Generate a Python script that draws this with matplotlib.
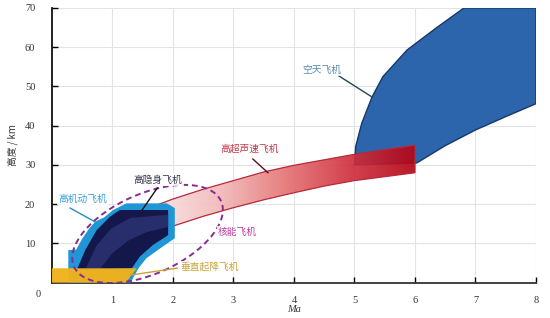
import numpy as np
import matplotlib
matplotlib.use("Agg")
import matplotlib.pyplot as plt
from matplotlib.patches import Polygon, Ellipse
from matplotlib.colors import LinearSegmentedColormap
from matplotlib.transforms import Affine2D

plt.rcParams['font.family'] = ['Noto Sans CJK SC', 'DejaVu Sans']

# ---------------- data ----------------
x_ticks = [1, 2, 3, 4, 5, 6, 7, 8]
y_ticks = [10, 20, 30, 40, 50, 60, 70]

# 空天飞机 (space plane) boundary
space_x = [5.0, 5.02, 5.12, 5.29, 5.47, 5.87, 6.36, 6.81, 8.0, 8.0, 7.5, 7.0, 6.5, 6.03]
space_y = [30.0, 34.7, 40.6, 47.3, 52.5, 59.3, 65.0, 70.0, 70.0, 45.6, 42.3, 38.9, 34.9, 30.5]

# 高超声速飞机 (hypersonic) band edges
hyp_up_x = [1.7, 2.0, 2.5, 3.0, 3.5, 4.0, 4.5, 5.0, 5.5, 6.0]
hyp_up_y = [19.6, 21.3, 23.8, 26.0, 28.2, 29.9, 31.3, 32.7, 33.9, 35.0]
hyp_lo_x = [6.0, 5.5, 5.0, 4.5, 4.0, 3.5, 3.0, 2.5, 2.0, 1.75]
hyp_lo_y = [28.0, 27.0, 26.0, 24.6, 22.9, 21.1, 19.1, 16.9, 14.4, 12.8]

# 高机动飞机 (high manoeuvrability)
man_x = [0.27, 0.27, 0.40, 0.50, 0.62, 0.72, 0.86, 1.01, 1.18, 1.23, 1.90, 2.03, 2.03,
         1.79, 1.56, 1.43, 1.30]
man_y = [0.0, 8.3, 8.4, 11.2, 13.9, 15.6, 16.6, 18.5, 19.8, 20.2, 20.2, 19.0, 11.3,
         8.75, 6.2, 3.65, 0.0]

# 高隐身飞机 (stealth)
st_x = [0.41, 0.55, 0.74, 0.96, 1.12, 1.92, 1.92, 1.67, 1.45, 1.32]
st_y = [3.2, 8.3, 13.4, 16.8, 18.5, 18.5, 12.1, 9.6, 6.6, 3.65]
st_band_x = [0.56, 0.74, 0.98, 1.30, 1.92, 1.92, 1.55, 1.25, 1.00, 0.80]
st_band_y = [3.65, 9.5, 13.8, 16.5, 17.3, 14.2, 12.8, 10.6, 7.5, 3.65]

# 垂直起降飞机 (VTOL)
vt_x = [0.0, 0.0, 1.40, 1.22]
vt_y = [0.0, 3.65, 3.65, 0.0]

# 核能飞机 (nuclear) ellipse: centre (Ma, km), size in pixels, angle
nuc_center = (1.58, 12.4)
nuc_w_px, nuc_h_px, nuc_angle = 161, 80, 24

labels = ["空天飞机", "高超声速飞机", "高隐身飞机", "高机动飞机", "核能飞机", "垂直起降飞机"]
label_xy = [(4.46, 54.2), (3.27, 34.0), (1.75, 26.2), (0.51, 21.3), (3.07, 12.9), (2.61, 4.0)]
leader_from = [(4.74, 52.7), (3.32, 31.5), (1.74, 24.1), (0.30, 19.0), None, (2.07, 3.7)]
leader_to = [(5.29, 47.3), (3.57, 28.0), (1.49, 18.5), (0.71, 15.5), None, (1.29, 1.9)]
label_colors = ["#5b88b5", "#c23a4c", "#33334f", "#3aa2da", "#c03aa0", "#c9a23a"]
line_colors = ["#1f4a5a", "#5a1020", "#111111", "#2a8ac0", None, "#c9a23a"]

# ---------------- figure ----------------
fig = plt.figure(figsize=(5.5, 3.18), dpi=100)
ax = fig.add_axes([0.0945, 0.1113, 0.88, 0.8637])
ax.set_xlim(0, 8)
ax.set_ylim(0, 70)

ax.set_xticks(x_ticks)
ax.set_yticks(y_ticks)
ax.grid(True, color="#e3e3e3", linewidth=0.8, zorder=0)
ax.set_axisbelow(True)
for s in ["top", "right"]:
    ax.spines[s].set_visible(False)
ax.spines["left"].set_linewidth(1.3)
ax.spines["bottom"].set_linewidth(1.3)
ax.spines["left"].set_color("#111111")
ax.spines["bottom"].set_color("#333333")
ax.tick_params(direction="in", length=4, width=1, pad=10, labelsize=7.5,
               labelcolor="#333333")
ax.tick_params(axis="y", pad=12)
for lab in ax.get_xticklabels() + ax.get_yticklabels():
    lab.set_family("Liberation Serif")
ax.text(-0.23, -3.0, "0", ha="center", va="center", fontsize=7.5,
        family="Liberation Serif", color="#333333", clip_on=False)

ax.set_xlabel("Ma", fontsize=7.5, family="Liberation Serif", style="italic",
              color="#333333", labelpad=0)
ax.set_ylabel("高度 / km", fontsize=7, color="#333333", labelpad=5,
              family=["Noto Sans CJK SC", "DejaVu Sans"])

# space plane
ax.add_patch(Polygon(list(zip(space_x, space_y)), closed=True, facecolor="#2c65ab",
                     edgecolor="#16386a", linewidth=1.0, zorder=2))

# hypersonic band with gradient
hyp_poly = Polygon(list(zip(hyp_up_x + hyp_lo_x, hyp_up_y + hyp_lo_y)), closed=True,
                   facecolor="none", edgecolor="#b52a3a", linewidth=0.9, zorder=3.1)
ax.add_patch(hyp_poly)
cmap = LinearSegmentedColormap.from_list(
    "red", ["#f9e2e2", "#f3b8b8", "#e57474", "#d0303e", "#b30414"])
grad = np.linspace(0, 1, 256).reshape(1, -1)
im = ax.imshow(grad, cmap=cmap, extent=[1.7, 6.0, 12.0, 35.5], aspect="auto",
               zorder=3, alpha=0.92, interpolation="bilinear")
im.set_clip_path(hyp_poly)

# high manoeuvrability
ax.add_patch(Polygon(list(zip(man_x, man_y)), closed=True, facecolor="#2096d6",
                     edgecolor="none", zorder=4))
# stealth
ax.add_patch(Polygon(list(zip(st_x, st_y)), closed=True, facecolor="#13174a",
                     edgecolor="none", zorder=5))
ax.add_patch(Polygon(list(zip(st_band_x, st_band_y)), closed=True, facecolor="#282e6c",
                     edgecolor="none", zorder=5.1))
# VTOL
ax.add_patch(Polygon(list(zip(vt_x, vt_y)), closed=True, facecolor="#f1b31c",
                     edgecolor="none", zorder=6, alpha=0.97, clip_on=False))

# nuclear ellipse (size given in pixels, converted to data units)
sx = 8.0 / (0.88 * 550)
sy = 70.0 / (0.8637 * 318)
ell = Ellipse((0, 0), nuc_w_px, nuc_h_px, angle=nuc_angle, facecolor="none",
              edgecolor="#8a2a92", linewidth=1.4, linestyle=(0, (3, 2)), zorder=7)
ell.set_transform(Affine2D().scale(sx, sy).translate(*nuc_center) + ax.transData)
ax.add_patch(ell)

# labels
for txt, xy, p0, p1, c, lc in zip(labels, label_xy, leader_from, leader_to,
                                   label_colors, line_colors):
    ax.text(xy[0], xy[1], txt, ha="center", va="center", fontsize=7, color=c, zorder=9,
            bbox=dict(facecolor="white", edgecolor="none", pad=1.0, alpha=0.85))
    if p0 is not None:
        ax.plot([p0[0], p1[0]], [p0[1], p1[1]], color=lc, linewidth=1.0, zorder=8)

fig.savefig("out.png", dpi=100)
